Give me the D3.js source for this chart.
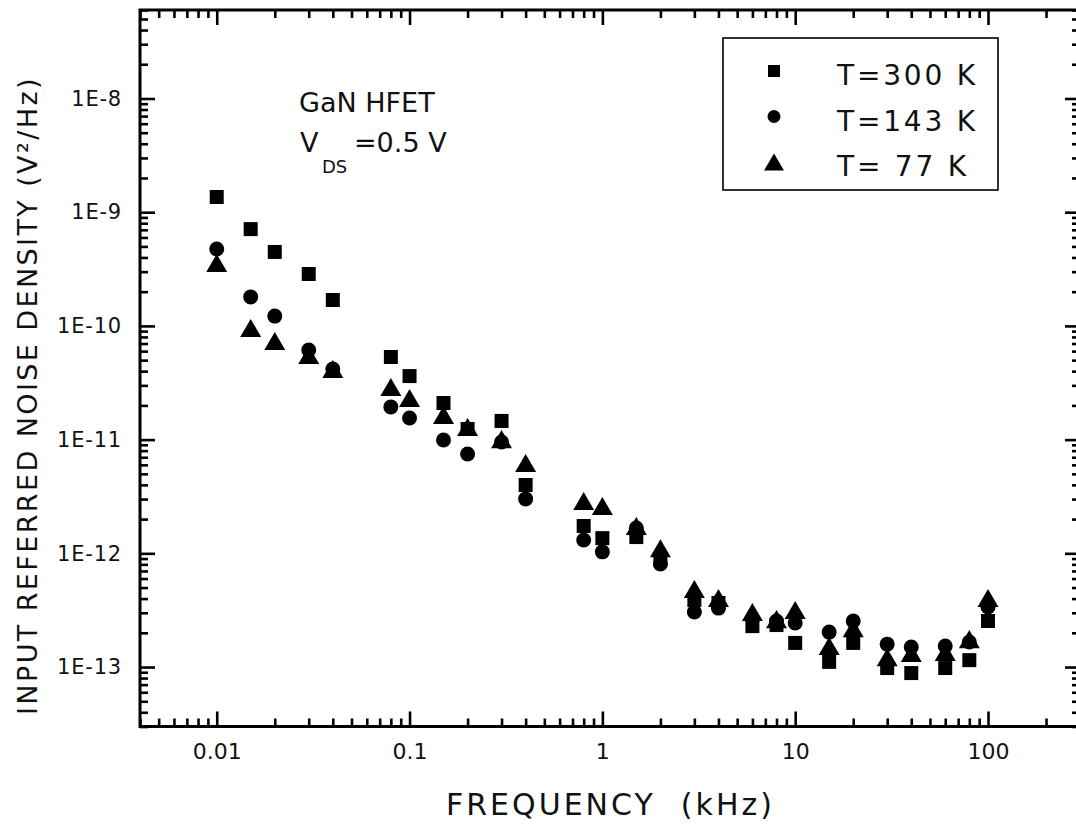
<!DOCTYPE html>
<meta charset="utf-8">
<head>
	<title>GaN HFET input referred noise</title>
	<script type="text/javascript" src="https://d3js.org/d3.v7.min.js"></script>
	<style>
  body { margin: 0; background: #fff; }
  text { font-family: "DejaVu Sans", sans-serif; fill: #111; }
  .frame { fill: none; stroke: #000; stroke-width: 3; }
  .tick line { stroke: #000; stroke-width: 2.6; }
  .domain { display: none; }
  .marker { fill: #000; }
	</style>
</head>
<body>
<div id="chart"></div>
<script>
// frequency points (kHz)
var freq = [0.01, 0.015, 0.02, 0.03, 0.04, 0.08, 0.1, 0.15, 0.2, 0.3, 0.4, 0.8, 1, 1.5, 2, 3, 4, 6, 8, 10, 15, 20, 30, 40, 60, 80, 100];

// input referred noise density (V^2/Hz) per temperature
var noise300K = [1.36e-9, 7.1e-10, 4.47e-10, 2.86e-10, 1.69e-10, 5.33e-11, 3.62e-11, 2.10e-11, 1.24e-11, 1.46e-11, 3.99e-12,
    1.74e-12, 1.36e-12, 1.39e-12, 8.9e-13, 3.88e-13, 3.66e-13, 2.29e-13, 2.34e-13, 1.63e-13, 1.11e-13, 1.63e-13, 9.8e-14,
    8.85e-14, 9.8e-14, 1.15e-13, 2.54e-13];
var noise143K = [4.75e-10, 1.80e-10, 1.22e-10, 6.14e-11, 4.18e-11, 1.94e-11, 1.55e-11, 9.93e-12, 7.47e-12, 9.53e-12, 3.01e-12,
    1.31e-12, 1.03e-12, 1.67e-12, 8.05e-13, 3.05e-13, 3.30e-13, 2.64e-13, 2.54e-13, 2.44e-13, 2.03e-13, 2.54e-13, 1.59e-13,
    1.50e-13, 1.53e-13, 1.66e-13, 3.37e-13];
var noise77K = [3.57e-10, 9.6e-11, 7.36e-11, 5.55e-11, 4.18e-11, 2.90e-11, 2.32e-11, 1.65e-11, 1.29e-11, 1.01e-11, 6.22e-12,
    2.88e-12, 2.61e-12, 1.74e-12, 1.11e-12, 4.85e-13, 4.05e-13, 3.05e-13, 2.64e-13, 3.17e-13, 1.53e-13, 2.20e-13, 1.22e-13,
    1.33e-13, 1.36e-13, 1.76e-13, 4.05e-13];

var seriesNames = ["T=300 K", "T=143 K", "T= 77 K"];
var seriesShapes = ["square", "circle", "triangle"];

// tick labels
var xTickVals = [0.01, 0.1, 1, 10, 100];
var yTickVals = [1e-8, 1e-9, 1e-10, 1e-11, 1e-12, 1e-13];

var width = 1076, height = 829;
var plot = {left: 140, right: 1080, top: 10, bottom: 726.5};

var svg = d3.select("#chart").append("svg")
    .attr("width", width)
    .attr("height", height);

var x = d3.scaleLog().domain([0.004, 300]).range([plot.left, plot.right]);
var y = d3.scaleLog().domain([3e-14, 6e-8]).range([plot.bottom, plot.top]);

// minor ticks: every 1..9 step that is not a decade
function isDecade(v) { return Math.abs(Math.log10(v) - Math.round(Math.log10(v))) < 1e-6; }
var xMinor = x.ticks().filter(function(d) { return !isDecade(d); });
var yMinor = y.ticks().filter(function(d) { return !isDecade(d); });

function yFmt(d) { return "1E" + Math.round(Math.log10(d)); }

// axes, ticks point into the plot
svg.append("g").attr("transform", "translate(0," + plot.bottom + ")")
    .call(d3.axisBottom(x).tickValues(xTickVals).tickSize(-15).tickSizeOuter(0).tickPadding(17).tickFormat(function(d) { return String(d); }))
    .call(function(g) { g.selectAll("text").attr("font-size", 22).style("font-family", "DejaVu Sans"); });
svg.append("g").attr("transform", "translate(0," + plot.bottom + ")")
    .call(d3.axisBottom(x).tickValues(xMinor).tickSize(-8).tickSizeOuter(0).tickFormat(""));
svg.append("g").attr("transform", "translate(0," + plot.top + ")")
    .call(d3.axisTop(x).tickValues(xTickVals).tickSize(-15).tickSizeOuter(0).tickFormat(""));
svg.append("g").attr("transform", "translate(0," + plot.top + ")")
    .call(d3.axisTop(x).tickValues(xMinor).tickSize(-8).tickSizeOuter(0).tickFormat(""));

svg.append("g").attr("transform", "translate(" + plot.left + ",0)")
    .call(d3.axisLeft(y).tickValues(yTickVals).tickSize(-15).tickSizeOuter(0).tickPadding(18).tickFormat(yFmt))
    .call(function(g) { g.selectAll("text").attr("font-size", 21).attr("letter-spacing", 0.8).style("font-family", "DejaVu Sans"); });
svg.append("g").attr("transform", "translate(" + plot.left + ",0)")
    .call(d3.axisLeft(y).tickValues(yMinor).tickSize(-8).tickSizeOuter(0).tickFormat(""));
svg.append("g").attr("transform", "translate(" + plot.right + ",0)")
    .call(d3.axisRight(y).tickValues(yTickVals).tickSize(-15).tickSizeOuter(0).tickFormat(""));
svg.append("g").attr("transform", "translate(" + plot.right + ",0)")
    .call(d3.axisRight(y).tickValues(yMinor).tickSize(-8).tickSizeOuter(0).tickFormat(""));

svg.append("rect").attr("class", "frame")
    .attr("x", plot.left).attr("y", plot.top)
    .attr("width", plot.right - plot.left).attr("height", plot.bottom - plot.top);

// axis titles
svg.append("text")
    .attr("x", 446).attr("y", 815)
    .attr("font-size", 30).attr("letter-spacing", 3)
    .style("white-space", "pre")
    .text("FREQUENCY  (kHz)");

svg.append("text")
    .attr("transform", "translate(37,715) rotate(-90)")
    .attr("font-size", 27).attr("letter-spacing", 2.4)
    .text("INPUT REFERRED NOISE DENSITY (V²/Hz)");

// annotation
svg.append("text").attr("x", 299).attr("y", 112).attr("font-size", 27).text("GaN HFET");
svg.append("text").attr("x", 300).attr("y", 152).attr("font-size", 27).text("V");
svg.append("text").attr("x", 322).attr("y", 173).attr("font-size", 18).text("DS");
svg.append("text").attr("x", 354).attr("y", 152).attr("font-size", 27).text("=0.5 V");

// markers
function markerPath(shape, s) {
    if (shape === "square") return "M" + (-s / 2) + "," + (-s / 2) + "h" + s + "v" + s + "h" + (-s) + "Z";
    if (shape === "circle") return d3.symbol().type(d3.symbolCircle).size(Math.PI * s * s / 4)();
    var h = s * 0.86;
    return "M0," + (-h / 2) + "L" + (s / 2) + "," + (h / 2) + "L" + (-s / 2) + "," + (h / 2) + "Z";
}
var markerSize = {square: 14, circle: 15, triangle: 21};

var allSeries = [noise300K, noise143K, noise77K];
allSeries.forEach(function(vals, i) {
    var shape = seriesShapes[i];
    svg.append("g")
        .selectAll("path")
        .data(freq.map(function(f, j) { return [f, vals[j]]; }))
        .enter().append("path")
        .attr("class", "marker")
        .attr("transform", function(d) { return "translate(" + x(d[0]) + "," + y(d[1]) + ")"; })
        .attr("d", markerPath(shape, markerSize[shape]));
});

// legend
var legend = svg.append("g").attr("transform", "translate(723,38)");
legend.append("rect")
    .attr("width", 275).attr("height", 152)
    .attr("fill", "#fff").attr("stroke", "#000").attr("stroke-width", 1.6);
var legendSize = {square: 12, circle: 13, triangle: 20};
seriesNames.forEach(function(name, i) {
    var cy = 33 + i * 45.5;
    legend.append("path")
        .attr("class", "marker")
        .attr("transform", "translate(51," + cy + ")")
        .attr("d", markerPath(seriesShapes[i], legendSize[seriesShapes[i]]));
    legend.append("text")
        .attr("x", 114).attr("y", cy + 14)
        .attr("font-size", 28).attr("letter-spacing", 2.8)
        .style("white-space", "pre")
        .text(name);
});
</script>
</body>
</html>
